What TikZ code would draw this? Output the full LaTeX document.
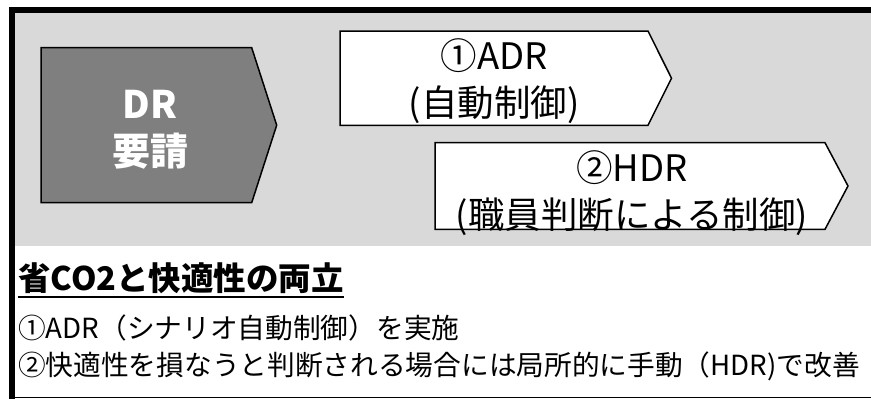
\documentclass[tikz,border=0pt]{standalone}
\usepackage{fontspec}
\newfontfamily\jp{Noto Sans CJK JP}
\definecolor{panelgray}{HTML}{D9D9D9}
\definecolor{drgray}{HTML}{7F7F7F}
\definecolor{baseline}{HTML}{A6A6A6}
\begin{document}
\begin{tikzpicture}[x=1pt,y=-1pt,
  frame/.style={draw=black,line width=6pt},
  whitebox/.style={fill=white,draw=black,line width=1.5pt,line join=miter},
  drbox/.style={fill=drgray,draw=black,line width=1.5pt,line join=miter},
  boxtext/.style={font=\jp\fontsize{36.5}{46}\selectfont,anchor=base,inner sep=0pt},
  drtext/.style={font=\jp\bfseries\fontsize{38}{47}\selectfont,text=white,anchor=base,inner sep=0pt},
  headtext/.style={font=\jp\bfseries\fontsize{32.5}{38}\selectfont,anchor=base west,inner sep=0pt},
  bodytext/.style={font=\jp\fontsize{27.7}{37}\selectfont,anchor=base west,inner sep=0pt}]
\useasboundingbox (0,0) rectangle (871,399);
\fill[white] (0,0) rectangle (871,399);
% gray panel
\fill[panelgray] (12,10) rectangle (871,246);
% bottom thin line
\draw[baseline,line width=1pt] (15,397.5) -- (871,397.5);
% thick frame (left and top)
\draw[frame] (12,399) -- (12,10) -- (871,10);
% DR request pentagon
\draw[drbox] (41,47.7) -- (251.7,47.7) -- (276.7,125.2) -- (251.7,202.7) -- (41,202.7) -- cycle;
\node[drtext] (dr1) at (150,118.5) {DR};
\node[drtext] (dr2) at (150,165.5) {要請};
% ADR pentagon
\draw[whitebox] (340,31) -- (648,31) -- (671.5,78.2) -- (648,125.3) -- (340,125.3) -- cycle;
\node[boxtext] (adr1) at (494,69.5) {①ADR};
\node[boxtext] (adr2) at (494,116.5) {(自動制御)};
% HDR pentagon
\draw[whitebox] (435,142.7) -- (825,142.7) -- (848,186) -- (825,229.3) -- (435,229.3) -- cycle;
\node[boxtext] (hdr1) at (632,181.5) {②HDR};
\node[boxtext] (hdr2) at (632,228.5) {(職員判断による制御)};
% bottom texts
\node[headtext] (head) at (18,290) {省CO2と快適性の両立};
\draw[line width=2pt] ([yshift=-6.5pt]head.base west) -- ([yshift=-6.5pt]head.base east);
\node[bodytext] (l1) at (18,338.5) {①ADR（シナリオ自動制御）を実施};
\node[bodytext] (l2) at (18,375.5) {②快適性を損なうと判断される場合には局所的に手動（HDR)で改善};
\end{tikzpicture}
\end{document}
